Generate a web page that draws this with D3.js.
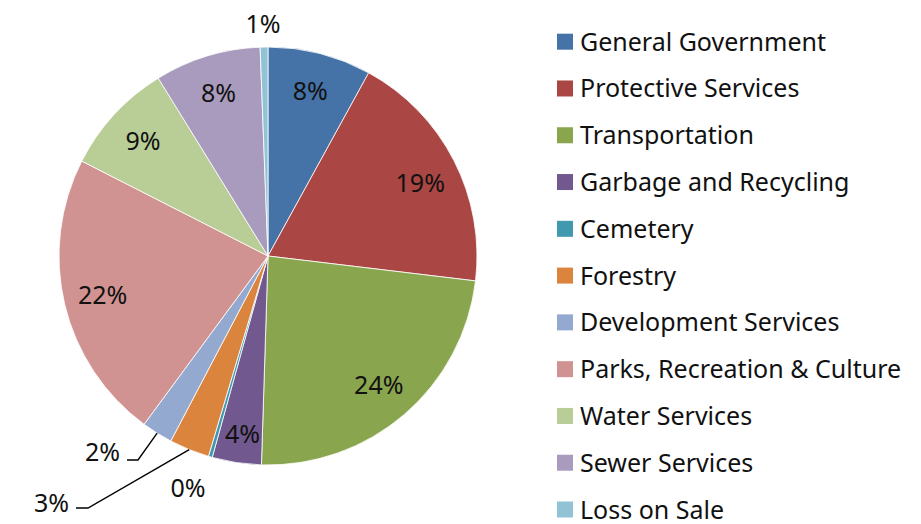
<!DOCTYPE html>
<html><head><meta charset="utf-8">
<script src="https://cdn.jsdelivr.net/npm/d3@7"></script>
<style>body{margin:0;background:#fff}svg{display:block}</style>
</head><body><svg id="c" width="921" height="524"></svg>
<script>
const categories = ["General Government","Protective Services","Transportation","Garbage and Recycling","Cemetery","Forestry","Development Services","Parks, Recreation & Culture","Water Services","Sewer Services","Loss on Sale"];
const values = [8.0, 18.9, 23.6, 3.8, 0.3, 3.1, 2.4, 22.4, 8.7, 8.2, 0.6];
const labels = ["8%","19%","24%","4%","0%","3%","2%","22%","9%","8%","1%"];
const colors = ["#4572A7","#AA4643","#89A54E","#71588F","#4198AF","#DB843D","#93A9CF","#D19392","#B9CD96","#A99BBD","#92C3D5"];

const W = 921, H = 524;
const cx = 268, cy = 256, R = 209;
const font = "'Noto Sans', 'Open Sans', sans-serif";
const svg = d3.select("#c");

const pie = d3.pie().sort(null).value(d => d.v);
const arcs = pie(categories.map((c, i) => ({c, v: values[i], i})));
const arc = d3.arc().innerRadius(0).outerRadius(R);
const labelArc = d3.arc().innerRadius(170).outerRadius(170);

const g = svg.append("g").attr("transform", `translate(${cx},${cy})`);
g.selectAll("path.s").data(arcs).enter().append("path")
  .attr("d", arc).attr("fill", d => colors[d.data.i])
  .attr("stroke", "#fff").attr("stroke-width", 0.8).attr("stroke-linejoin", "round");

// label placement (layout only)
const outside = {
  1: {shift: [1, 5]},
  3: {shift: [0, 10]},
  4: {text: [-80, 232]},
  10: {text: [-5, -232]},
  5: {leader: true, elbow: [-180, 252], end: [-192, 252], text: [-199, 247]},
  6: {leader: true, elbow: [-130, 204], end: [-141, 204], text: [-148, 196]}
};
const mid = d => (d.startAngle + d.endAngle) / 2;
arcs.forEach(d => {
  const o = outside[d.data.i];
  let x, y, anchor = "middle";
  if (!o || o.shift) {
    [x, y] = labelArc.centroid(d);
    if (o) { x += o.shift[0]; y += o.shift[1]; }
  } else if (!o.leader) {
    [x, y] = o.text;
  } else {
    const a = mid(d);
    const sx = R * Math.sin(a), sy = -R * Math.cos(a);
    g.append("polyline")
      .attr("points", [[sx, sy], o.elbow, o.end].map(p => p.join(",")).join(" "))
      .attr("fill", "none").attr("stroke", "#000").attr("stroke-width", 1.4);
    [x, y] = o.text; anchor = "end";
  }
  g.append("text").attr("x", x).attr("y", y).attr("dy", "0.35em")
    .attr("text-anchor", anchor).attr("font-family", font).attr("font-size", 25)
    .attr("fill", "#111").text(labels[d.data.i]);
});

// legend
const ly = d3.scaleLinear().domain([0, categories.length - 1]).range([41.7, 509.5]);
const lg = svg.append("g");
categories.forEach((c, i) => {
  lg.append("rect").attr("x", 557).attr("y", ly(i) - 8).attr("width", 16).attr("height", 16).attr("fill", colors[i]);
  lg.append("text").attr("x", 580).attr("y", ly(i)).attr("dy", "0.36em")
    .attr("font-family", font).attr("font-size", 25).attr("fill", "#111").text(c);
});
</script></body></html>
